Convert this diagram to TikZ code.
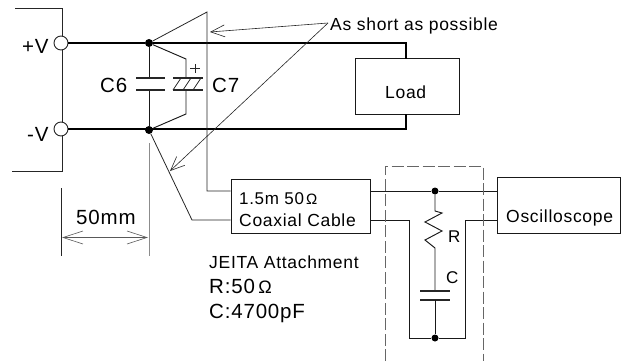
\documentclass[tikz,border=0pt]{standalone}
\usepackage{fontspec}
\setmainfont[LetterSpace=4]{Liberation Sans}
\usetikzlibrary{arrows.meta,decorations.pathmorphing}
\tikzset{
  wire/.style={line width=0.95pt,black!90},
  heavy/.style={line width=1.5pt,black},
  thin wire/.style={line width=0.8pt,black!85},
  dotnode/.style={circle,fill=black,inner sep=0pt,minimum size=8pt},
  termnode/.style={circle,draw=black!85,fill=white,line width=0.9pt,inner sep=0pt,minimum size=14pt},
  boxnode/.style={draw=black!90,line width=1pt,fill=white,inner sep=0pt},
  lab/.style={inner sep=0pt,font=\fontsize{17.5}{20}\selectfont,anchor=base west},
  lab mid/.style={inner sep=0pt,font=\fontsize{17}{20}\selectfont,anchor=base west},
  lab big/.style={inner sep=0pt,font=\fontsize{20.5}{24}\selectfont,anchor=base west},
  barb/.style={-{Straight Barb[length=14pt,width=12pt,line width=0.6pt]},line width=0.6pt,black!85},
  plate/.style={line width=1.2pt,black!85},
  dim/.style={line width=1.1pt,black!45},
  dashbox/.style={line width=0.8pt,black!60,dash pattern=on 12pt off 3.5pt}
}
\begin{document}
\begin{tikzpicture}[x=1pt,y=-1pt]
\useasboundingbox (0,0) rectangle (623,361);
% source outline
\coordinate (s1) at (15,8); \coordinate (s2) at (62,8);
\coordinate (s3) at (62,171); \coordinate (s4) at (12,171);
\draw[thin wire] (s1) -- (s2) -- (s3) -- (s4);
% nodes
\node[termnode] (tp) at (61,43) {};
\node[termnode] (tm) at (61,129) {};
\node[dotnode] (dp) at (149,43) {};
\node[dotnode] (dm) at (149,130) {};
\node[boxnode,minimum width=104pt,minimum height=55pt] (load) at (407,86.5) {};
\node[boxnode,minimum width=139pt,minimum height=54pt] (coax) at (300.5,206) {};
\node[boxnode,minimum width=123pt,minimum height=56pt] (osc) at (558.5,205) {};
\node[dotnode,minimum size=7pt] (d1) at (435,191) {};
\node[dotnode,minimum size=7pt] (d2) at (435,338) {};
% main rails
\coordinate (lt) at (406,43); \coordinate (lb) at (406,129);
\draw[heavy] (tp) -- (dp) -- (lt) -- (406,59.5);
\draw[heavy] (tm) -- (dm |- tm) -- (lb) -- (406,114);
% C6
\coordinate (c6t) at (149,78); \coordinate (c6b) at (149,90);
\draw[wire] (dp) -- (c6t) (c6b) -- (dm);
\draw[plate] (136,78) -- (165,78) (136,90) -- (165,90);
% C7
\coordinate (c7u) at (186,59); \coordinate (c7t) at (186,78);
\coordinate (c7b) at (186,90); \coordinate (c7l) at (186,114);
\draw[wire] (dp) -- (c7u) -- (c7t) (c7b) -- (c7l) -- (dm);
\draw[plate] (173,78) -- (203,78) (173,90) -- (203,90);
\draw[thin wire] (173,90) -- (181,78) (183,90) -- (191,78) (193,90) -- (201,78);
\draw[thin wire] (190,68.5) -- (200,68.5) (195,64) -- (195,73);
% triangle and probe wires
\coordinate (apex) at (207,12); \coordinate (pk) at (207,191);
\coordinate (low) at (192,220);
\draw[thin wire] (dp) -- (apex) -- (pk) -- (coax.west |- pk);
\draw[thin wire] (dm) -- (low) -- (coax.west |- low);
% right-hand side
\draw[wire] (coax.east |- d1) -- (d1) -- (osc.west |- d1);
\coordinate (a) at (409,220); \coordinate (b) at (409,338);
\coordinate (e) at (465,338); \coordinate (f) at (465,220);
\draw[wire] (coax.east |- a) -- (a) -- (b) -- (d2) -- (e) -- (f) -- (osc.west |- f);
% R and C in attachment
\draw[wire] (d1) -- (435,211) -- (442,213) -- (425,222) -- (442,231) -- (425,240) -- (435,248) -- (435,291);
\draw[plate] (420,291) -- (450,291) (420,300) -- (450,300);
\draw[wire] (435,300) -- (d2);
% dashed enclosure
\draw[dashbox] (385,361) -- (385,166) -- (483,166) -- (483,361);
% leaders
\coordinate (src) at (328,23);
\draw[barb] (src) -- (210,32);
\draw[barb] (src) -- (170,171);
% 50 mm dimension
\coordinate (dl) at (61.5,188); \coordinate (dlb) at (61.5,256);
\coordinate (dr) at (149.5,143); \coordinate (drb) at (149.5,256);
\draw[thin wire] (dl) -- (dlb);
\draw[dim] (dr) -- (drb);
\draw[{Straight Barb[length=20pt,width=13pt,line width=0.6pt]}-{Straight Barb[length=20pt,width=13pt,line width=0.6pt]},line width=1pt,black!65] (62,237.5) -- (148,237.5);
% text
\node[lab big] (tpv) at (22,53.5) {+V};
\node[lab big] (tmv) at (27,141) {-V};
\node[lab big] (c6) at (100,92) {C6};
\node[lab big] (c7) at (212,92) {C7};
\node[lab] (short) at (330,30.5) {As short as possible};
\node[lab] (loadt) at (385,98) {Load};
\node[lab big] (mm) at (76,224) {50mm};
\node[lab mid] (cab1) at (239,204) {1.5m 50\kern2pt\fontsize{15}{18}\selectfont Ω};
\node[lab] (cab2) at (239,226) {Coaxial Cable};
\node[lab] (oscT) at (506,222) {Oscilloscope};
\node[lab mid] (rl) at (448,242) {R};
\node[lab mid] (cl) at (446,283) {C};
\node[lab] (j1) at (209,268) {JEITA Attachment};
\node[lab big] (j2) at (209,293) {R:50\,\fontsize{18}{20}\selectfont Ω};
\node[lab big] (j3) at (209,318) {C:4700pF};
\end{tikzpicture}
\end{document}
